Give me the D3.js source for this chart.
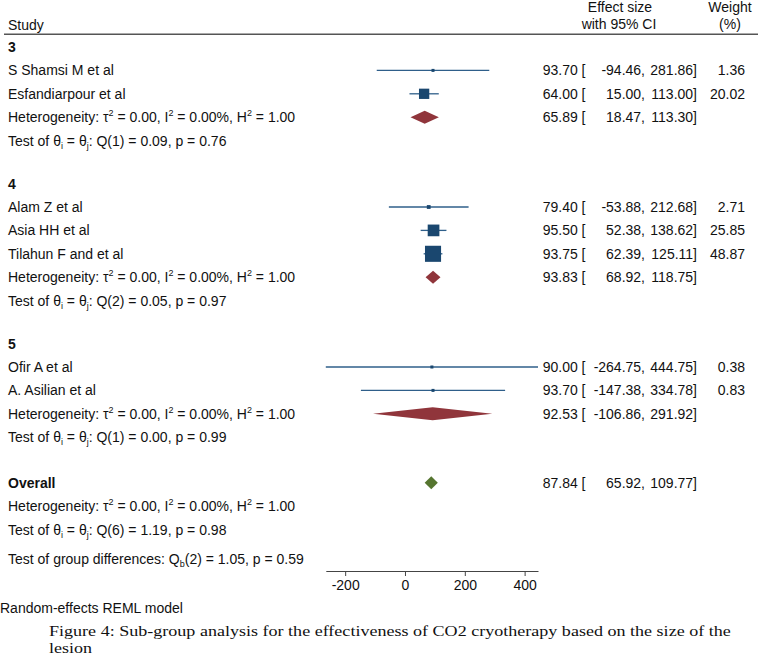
<!DOCTYPE html>
<html>
<head>
<meta charset="utf-8">
<script src="https://cdn.jsdelivr.net/npm/d3@7"></script>
<style>
  html, body { margin: 0; padding: 0; background: #fff; }
  svg { display: block; }
</style>
</head>
<body>
<svg id="chart" width="758" height="657"></svg>
<script>
// ---------- DATA ----------
const groups = ["3", "4", "5"];
const studies = ["S Shamsi M et al", "Esfandiarpour et al", "Alam Z et al", "Asia HH et al", "Tilahun F and et al", "Ofir A et al", "A. Asilian et al"];
const studyGroup = ["3", "3", "4", "4", "4", "5", "5"];
const effect = [93.70, 64.00, 79.40, 95.50, 93.75, 90.00, 93.70];
const lower = [-94.46, 15.00, -53.88, 52.38, 62.39, -264.75, -147.38];
const upper = [281.86, 113.00, 212.68, 138.62, 125.11, 444.75, 334.78];
const weight = [1.36, 20.02, 2.71, 25.85, 48.87, 0.38, 0.83];

const groupEffect = [65.89, 93.83, 92.53];
const groupLower = [18.47, 68.92, -106.86];
const groupUpper = [113.30, 118.75, 291.92];
const groupTau2 = [0.00, 0.00, 0.00];
const groupI2 = [0.00, 0.00, 0.00];
const groupH2 = [1.00, 1.00, 1.00];
const groupQdf = [1, 2, 1];
const groupQ = [0.09, 0.05, 0.00];
const groupP = [0.76, 0.97, 0.99];

const overallEffect = [87.84];
const overallLower = [65.92];
const overallUpper = [109.77];
const overallStats = [0.00, 0.00, 1.00]; // tau2, I2, H2
const overallQ = [6, 1.19, 0.98];        // df, Q, p
const groupDiff = [2, 1.05, 0.59];       // df, Qb, p

const xTicks = [-200, 0, 200, 400];

// ---------- LAYOUT ----------
const svg = d3.select("#chart");
const FONT = "'Liberation Sans', Arial, Helvetica, sans-serif";
const TXT = "#111";
const NAVY = "#1a476f", MAROON = "#90353b", GREEN = "#55752f";
const step = 23.4, groupGap = 43, overallGap = 45.5;

const xMin = d3.min(lower), xMax = d3.max(upper);
const x = d3.scaleLinear().domain([xMin, xMax]).range([325.8, 538]);

const colEst = 542.7, colLo = 645, colHi = 697, colW = 745;
const f2 = v => d3.format(".2f")(v).replace("\u2212", "-");

function rich(x0, y0, segs, opts = {}) {
  const t = svg.append("text")
    .attr("x", x0).attr("y", y0)
    .attr("font-family", FONT).attr("font-size", 14)
    .attr("fill", TXT)
    .attr("font-weight", opts.bold ? "bold" : "normal")
    .attr("text-anchor", opts.anchor || "start");
  let shift = 0;
  segs.forEach(s => {
    const [str, kind] = Array.isArray(s) ? s : [s, "n"];
    let target = kind === "sup" ? -6 : kind === "sub" ? 3 : 0;
    const ts = t.append("tspan").text(str);
    if (target !== shift) { ts.attr("dy", target - shift); shift = target; }
    if (kind !== "n") ts.attr("font-size", 9);
  });
  return t;
}

function effectText(y, e, lo, hi, w) {
  rich(colEst, y, [f2(e) + " ["]);
  rich(colLo, y, [f2(lo) + ","], { anchor: "end" });
  rich(colHi, y, [f2(hi) + "]"], { anchor: "end" });
  if (w != null) rich(colW, y, [f2(w)], { anchor: "end" });
}

function hetText(y, tau2, i2, h2) {
  rich(8, y, ["Heterogeneity: τ", ["2", "sup"], " = " + f2(tau2) + ", I", ["2", "sup"],
    " = " + f2(i2) + "%, H", ["2", "sup"], " = " + f2(h2)]);
}
function testText(y, df, q, p) {
  rich(8, y, ["Test of θ", ["i", "sub"], " = θ", ["j", "sub"], ": Q(" + df + ") = " + f2(q) + ", p = " + f2(p)]);
}

function diamond(y, lo, e, hi, color) {
  const h = 6.5, cy = y - 5;
  svg.append("path")
    .attr("d", `M${x(lo)},${cy} L${x(e)},${cy - h} L${x(hi)},${cy} L${x(e)},${cy + h} Z`)
    .attr("fill", color);
}

// Header
rich(8, 29.5, ["Study"]);
rich(620, 12, ["Effect size"], { anchor: "middle" });
rich(619, 28.5, ["with 95% CI"], { anchor: "middle" });
rich(730, 12, ["Weight"], { anchor: "middle" });
rich(730, 28.5, ["(%)"], { anchor: "middle" });
svg.append("line").attr("x1", 4).attr("x2", 758).attr("y1", 34.3).attr("y2", 34.3)
  .attr("stroke", "#555").attr("stroke-width", 1.5);

// Groups
let y = 52;
const k = 2.3;
groups.forEach((g, gi) => {
  rich(8, y, [g], { bold: true });
  y += step;
  studies.forEach((s, i) => {
    if (studyGroup[i] !== g) return;
    rich(8, y, [s]);
    const cy = y - 5;
    svg.append("line").attr("x1", x(lower[i])).attr("x2", x(upper[i]))
      .attr("y1", cy).attr("y2", cy)
      .attr("stroke", "#2f5f8a").attr("stroke-width", 1.3);
    const side = Math.max(3, k * Math.sqrt(weight[i]));
    svg.append("rect")
      .attr("x", x(effect[i]) - side / 2).attr("y", cy - side / 2)
      .attr("width", side).attr("height", side).attr("fill", NAVY);
    effectText(y, effect[i], lower[i], upper[i], weight[i]);
    y += step;
  });
  hetText(y, groupTau2[gi], groupI2[gi], groupH2[gi]);
  diamond(y, groupLower[gi], groupEffect[gi], groupUpper[gi], MAROON);
  effectText(y, groupEffect[gi], groupLower[gi], groupUpper[gi], null);
  y += step;
  testText(y, groupQdf[gi], groupQ[gi], groupP[gi]);
  y += (gi < groups.length - 1) ? groupGap : overallGap;
});

// Overall
rich(8, y, ["Overall"], { bold: true });
diamond(y, overallLower[0], overallEffect[0], overallUpper[0], GREEN);
effectText(y, overallEffect[0], overallLower[0], overallUpper[0], null);
y += step;
hetText(y, overallStats[0], overallStats[1], overallStats[2]);
y += step;
testText(y, overallQ[0], overallQ[1], overallQ[2]);
y += 29;
rich(8, y, ["Test of group differences: Q", ["b", "sub"], "(" + groupDiff[0] + ") = " + f2(groupDiff[1]) + ", p = " + f2(groupDiff[2])]);

// Axis
const axisY = 571;
const axisG = svg.append("g").attr("transform", `translate(0,${axisY})`)
  .call(d3.axisBottom(x).tickValues(xTicks).tickSize(5).tickSizeOuter(0).tickPadding(5)
    .tickFormat(d => String(d)));
axisG.select(".domain").attr("stroke", "#444").attr("stroke-width", 1);
axisG.selectAll(".tick line").attr("stroke", "#444");
axisG.selectAll(".tick text").attr("font-family", FONT).attr("font-size", 14).attr("fill", TXT)
  .attr("dy", null).attr("y", 19);

// Footer
rich(0, 612.5, ["Random-effects REML model"]);
svg.append("text").attr("font-family", "'Liberation Serif', 'Times New Roman', serif")
  .attr("font-size", 14.8).attr("fill", "#111")
  .attr("transform", "translate(49,636) scale(1.22,1)")
  .text("Figure 4: Sub-group analysis for the effectiveness of CO2 cryotherapy based on the size of the");
svg.append("text").attr("font-family", "'Liberation Serif', 'Times New Roman', serif")
  .attr("font-size", 14.8).attr("fill", "#111")
  .attr("transform", "translate(49,653) scale(1.22,1)")
  .text("lesion");
</script>
</body>
</html>
